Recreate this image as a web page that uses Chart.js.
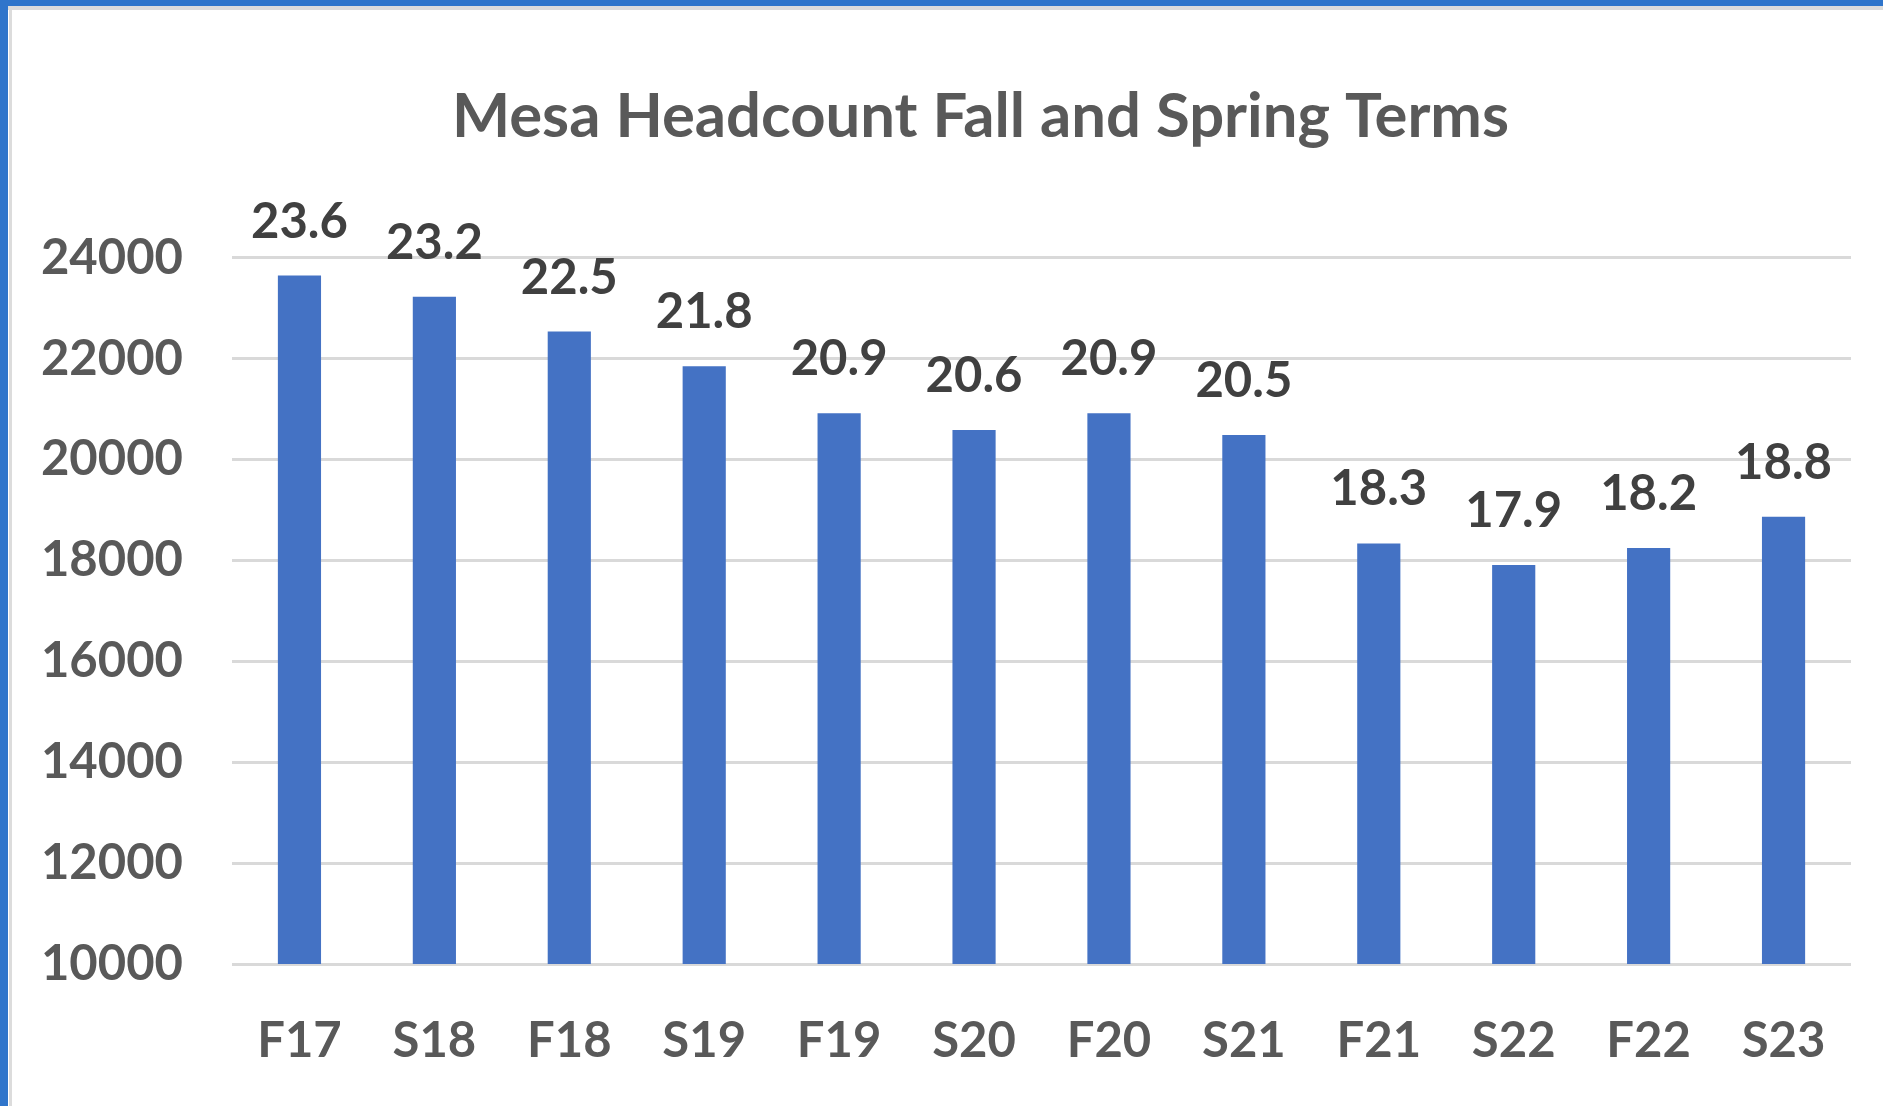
<!DOCTYPE html>
<html>
<head>
<meta charset="utf-8">
<script src="https://cdn.jsdelivr.net/npm/chart.js@4.4.0/dist/chart.umd.min.js"></script>
<style>
  html, body { margin: 0; padding: 0; background: #ffffff; overflow: hidden; }
  #wrap { position: absolute; left: 0; top: 0; width: 1883px; height: 1106px; }
  #c { position: absolute; left: 0; top: 0; }
  .edge { position: absolute; pointer-events: none; }
</style>
</head>
<body>
<div id="wrap">
  <canvas id="c" width="1883" height="1106"></canvas>
  <div class="edge" style="left:0;top:0;width:1883px;height:6px;background:#2F75CB;"></div>
  <div class="edge" style="left:0;top:0;width:8px;height:1106px;background:#2F75CB;"></div>
  <div class="edge" style="left:8px;top:6px;width:1875px;height:4px;background:#DCDCDC;"></div>
  <div class="edge" style="left:9px;top:6px;width:3px;height:1100px;background:#DCDCDC;"></div>
</div>
<script>
const titleText = 'Mesa Headcount Fall and Spring Terms';
const categories = ['F17','S18','F18','S19','F19','S20','F20','S21','F21','S22','F22','S23'];
const headcount = [23650, 23230, 22540, 21850, 20920, 20590, 20920, 20490, 18340, 17910, 18250, 18870];
const valueLabels = ['23.6','23.2','22.5','21.8','20.9','20.6','20.9','20.5','18.3','17.9','18.2','18.8'];
const yMin = 10000, yMax = 24000, yStep = 2000;

const FONT = 'Lato, "Open Sans", sans-serif';

const barLabels = {
  id: 'barLabels',
  afterDatasetsDraw(chart) {
    const ctx = chart.ctx;
    const meta = chart.getDatasetMeta(0);
    ctx.save();
    ctx.font = 'bold 49px ' + FONT;
    ctx.fillStyle = '#404040';
    ctx.textAlign = 'center';
    ctx.textBaseline = 'alphabetic';
    meta.data.forEach((el, i) => {
      ctx.fillText(valueLabels[i], el.x, el.y - 38);
    });
    ctx.restore();
  }
};

const titleShift = {
  id: 'titleShift',
  afterLayout(chart) {
    if (chart.titleBlock) { chart.titleBlock.left = 110; }
  }
};

new Chart(document.getElementById('c'), {
  type: 'bar',
  data: {
    labels: categories,
    datasets: [{
      data: headcount,
      backgroundColor: '#4472C4',
      borderWidth: 0,
      categoryPercentage: 1.0,
      barPercentage: 0.32
    }]
  },
  options: {
    responsive: false,
    animation: false,
    devicePixelRatio: 1,
    layout: { padding: { left: 0, right: 32, top: 0, bottom: 0 } },
    plugins: {
      legend: { display: false },
      tooltip: { enabled: false },
      title: {
        display: true,
        text: titleText,
        color: '#595959',
        font: { family: FONT, size: 61.6, weight: 'bold', lineHeight: 1.2 },
        padding: { top: 80, bottom: 104 }
      }
    },
    scales: {
      x: {
        offset: true,
        grid: { display: false, drawTicks: false },
        border: { display: false },
        ticks: {
          color: '#595959',
          font: { family: FONT, size: 49, weight: 'bold', lineHeight: 1.2 },
          padding: 48,
          maxRotation: 0,
          autoSkip: false
        },
        afterFit(scale) { scale.height = 142; }
      },
      y: {
        min: yMin,
        max: yMax,
        grid: { color: '#D9D9D9', lineWidth: 3, drawTicks: false },
        border: { display: false },
        ticks: {
          stepSize: yStep,
          color: '#595959',
          font: { family: FONT, size: 49, weight: 'bold', lineHeight: 1.2 },
          padding: 49,
          callback: (v) => String(v)
        },
        afterFit(scale) { scale.width = 232; }
      }
    }
  },
  plugins: [barLabels, titleShift]
});
</script>
</body>
</html>
